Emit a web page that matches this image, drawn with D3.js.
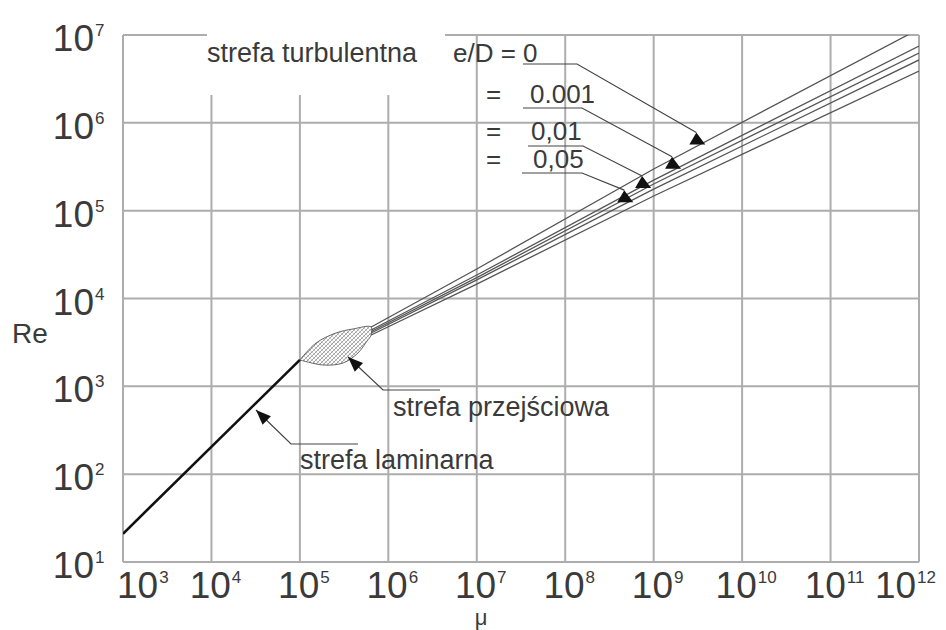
<!DOCTYPE html>
<html>
<head>
<meta charset="utf-8">
<script src="https://cdn.jsdelivr.net/npm/d3@7"></script>
<style>
  body { margin: 0; background: #fff; }
  svg { display: block; font-family: "Liberation Sans", Arial, sans-serif; }
</style>
</head>
<body>
<svg id="chart" width="946" height="630"></svg>
<script>
// axis ticks (decades)
const muTicks = [1e3, 1e4, 1e5, 1e6, 1e7, 1e8, 1e9, 1e10, 1e11, 1e12];
const reTicks = [1e1, 1e2, 1e3, 1e4, 1e5, 1e6, 1e7];

// laminar zone
const laminarMu = [1e3, 1e5];
const laminarRe = [21, 2000];

// transition zone (hatched lens)
const transUpperMu = [1e5, 1.52e5, 2.56e5, 3.99e5, 6.4e5];
const transUpperRe = [2000, 3110, 4050, 4500, 4740];
const transLowerMu = [1e5, 1.82e5, 3.08e5, 4.54e5, 5.74e5, 6.4e5];
const transLowerRe = [2000, 1750, 1845, 2400, 3280, 3840];

// turbulent zone, one line per roughness
const turbMu = [6.4e5, 1e7, 1e9, 1e12];
const reSmooth = [4740, 21700, 2.98e5, 1.17e7];   // e/D = 0
const re0001 = [4380, 18500, 2.23e5, 7.5e6];      // 0.001
const re001 = [4210, 17300, 2.01e5, 6.24e6];      // 0,01
const re005 = [4050, 16300, 1.76e5, 5.2e6];       // 0,05
const reRough = [3840, 14600, 1.47e5, 3.89e6];
const turbLines = [reSmooth, re0001, re001, re005, reRough];

// where the e/D arrows sit on their lines
const arrowMu = [3.2e9, 1.7e9, 7.8e8, 4.9e8];

const svg = d3.select('#chart');
const x = d3.scaleLog().domain([1e3, 1e12]).range([123, 919]);
const y = d3.scaleLog().domain([1e1, 1e7]).range([562, 35]);
const plotLeft = x.range()[0], plotRight = x.range()[1];
const plotTop = y.range()[1], plotBottom = y.range()[0];

const gridColor = '#adadad';
const inkColor = '#3a3a3a';

// hatch pattern for the transition zone
const defs = svg.append('defs');
const pat = defs.append('pattern')
  .attr('id', 'hatch')
  .attr('patternUnits', 'userSpaceOnUse')
  .attr('width', 4).attr('height', 4);
pat.append('path').attr('d', 'M0,4 L4,0 M-1,1 L1,-1 M3,5 L5,3')
  .attr('stroke', '#777').attr('stroke-width', 0.7);
pat.append('path').attr('d', 'M0,0 L4,4 M-1,3 L1,5 M3,-1 L5,1')
  .attr('stroke', '#999').attr('stroke-width', 0.5);

defs.append('clipPath').attr('id', 'plotClip')
  .append('rect')
  .attr('x', plotLeft).attr('y', plotTop)
  .attr('width', plotRight - plotLeft).attr('height', plotBottom - plotTop);

// grid
const grid = svg.append('g').attr('stroke', gridColor).attr('stroke-width', 2);
muTicks.forEach(t => {
  const short = t >= 1e4 && t <= 1e6;   // stop below the title text
  grid.append('line')
    .attr('x1', x(t)).attr('x2', x(t))
    .attr('y1', short ? 95 : plotTop).attr('y2', plotBottom);
});
reTicks.filter(t => t < 1e7).forEach(t => {
  grid.append('line')
    .attr('x1', plotLeft).attr('x2', plotRight)
    .attr('y1', y(t)).attr('y2', y(t));
});
// top edge is broken by the header text
grid.append('line').attr('x1', plotLeft).attr('x2', 207).attr('y1', plotTop).attr('y2', plotTop);
grid.append('line').attr('x1', 445).attr('x2', plotRight).attr('y1', plotTop).attr('y2', plotTop);

// tick labels
const tickFont = 37, supFont = 17;
const yLab = svg.append('g').attr('fill', inkColor);
reTicks.forEach(t => {
  const e = Math.round(Math.log10(t));
  yLab.append('text')
    .attr('x', 94).attr('y', y(t) + 16)
    .attr('text-anchor', 'end')
    .attr('font-size', tickFont)
    .text('10');
  yLab.append('text')
    .attr('x', 95).attr('y', y(t) + 1)
    .attr('font-size', supFont)
    .text(e);
});

const xLab = svg.append('g').attr('fill', inkColor);
muTicks.forEach(t => {
  const e = String(Math.round(Math.log10(t)));
  const g = xLab.append('g');
  const base = g.append('text')
    .attr('x', 0).attr('y', 598)
    .attr('font-size', tickFont)
    .text('10');
  const w = base.node().getComputedTextLength();
  const sup = g.append('text')
    .attr('x', w + 1).attr('y', 583)
    .attr('font-size', supFont)
    .text(e);
  const total = w + 1 + sup.node().getComputedTextLength();
  let x0 = x(t) - total / 2 + 4;
  x0 = Math.max(117, Math.min(x0, 936 - total));
  g.attr('transform', `translate(${x0},0)`);
});

// axis titles
svg.append('text').attr('x', 12).attr('y', 343)
  .attr('font-size', 28).attr('fill', inkColor).text('Re');
svg.append('text').attr('x', 481).attr('y', 625)
  .attr('text-anchor', 'middle')
  .attr('font-size', 22).attr('fill', inkColor).text('μ');

// curves
const plot = svg.append('g').attr('clip-path', 'url(#plotClip)');
const pts = (mus, res) => mus.map((m, i) => [x(m), y(res[i])]);

const lens = pts(transUpperMu, transUpperRe)
  .concat(pts(transLowerMu, transLowerRe).reverse());
plot.append('path')
  .attr('d', d3.line().curve(d3.curveCatmullRomClosed)(lens))
  .attr('fill', 'url(#hatch)')
  .attr('stroke', '#666')
  .attr('stroke-width', 1);

const turbLine = d3.line();
turbLines.forEach(res => {
  plot.append('path')
    .attr('d', turbLine(pts(turbMu, res)))
    .attr('fill', 'none')
    .attr('stroke', '#555')
    .attr('stroke-width', 1.3);
});

plot.append('path')
  .attr('d', d3.line()(pts(laminarMu, laminarRe)))
  .attr('fill', 'none')
  .attr('stroke', '#111')
  .attr('stroke-width', 2.6);

// value of a turbulent line at mu (log-linear between points)
function lineAt(res, m) {
  const lm = Math.log10(m);
  for (let i = 0; i < turbMu.length - 1; i++) {
    const a = Math.log10(turbMu[i]), b = Math.log10(turbMu[i + 1]);
    if (lm >= a && lm <= b) {
      const f = (lm - a) / (b - a);
      return Math.pow(10, Math.log10(res[i]) + f * (Math.log10(res[i + 1]) - Math.log10(res[i])));
    }
  }
  return res[res.length - 1];
}

// annotations
const ann = svg.append('g').attr('fill', inkColor).attr('font-size', 27);
ann.append('text').attr('x', 207).attr('y', 62).text('strefa turbulentna');
ann.append('text').attr('x', 393).attr('y', 416).text('strefa przejściowa');
ann.append('text').attr('x', 300).attr('y', 469).text('strefa laminarna');

const eLabels = [
  { eq: null, val: 'e/D = 0', tx: 453, ty: 62, u0: 523, u1: 577, uy: 64 },
  { eq: '=', val: '0.001', tx: 530, ty: 103, u0: 523, u1: 582, uy: 108 },
  { eq: '=', val: '0,01', tx: 531, ty: 140, u0: 528, u1: 583, uy: 146 },
  { eq: '=', val: '0,05', tx: 533, ty: 168, u0: 522, u1: 582, uy: 173 }
];
const leader = svg.append('g').attr('stroke', '#444').attr('stroke-width', 1.2).attr('fill', 'none');
eLabels.forEach((d, i) => {
  ann.append('text').attr('x', d.tx).attr('y', d.ty).attr('font-size', 26).text(d.val);
  if (d.eq) ann.append('text').attr('x', 486).attr('y', d.ty).attr('font-size', 26).text(d.eq);
  const px = x(arrowMu[i]);
  const py = y(lineAt(turbLines[i], arrowMu[i]));
  const apex = [px - 2, py - 13];
  leader.append('path')
    .attr('d', `M${d.u0},${d.uy} L${d.u1},${d.uy} L${apex[0]},${apex[1]}`);
  svg.append('path')
    .attr('d', `M${apex[0]},${apex[1]} L${px + 7},${py - 1} L${px - 9},${py - 1} Z`)
    .attr('fill', '#111');
});

// arrows with a head pointing at the tip
function arrow(points) {
  leader.append('path').attr('d', d3.line()(points));
  const tip = points[0], from = points[1];
  const dx = from[0] - tip[0], dy = from[1] - tip[1];
  const len = Math.hypot(dx, dy), ux = dx / len, uy = dy / len;
  const L = 15, W = 6;
  const bx = tip[0] + ux * L, by = tip[1] + uy * L;
  svg.append('path')
    .attr('d', `M${tip[0]},${tip[1]} L${bx - uy * W},${by + ux * W} L${bx + uy * W},${by - ux * W} Z`)
    .attr('fill', '#111');
}
arrow([[348, 357], [383, 390], [440, 390]]);
arrow([[256, 410], [291, 444], [358, 444]]);
</script>
</body>
</html>
